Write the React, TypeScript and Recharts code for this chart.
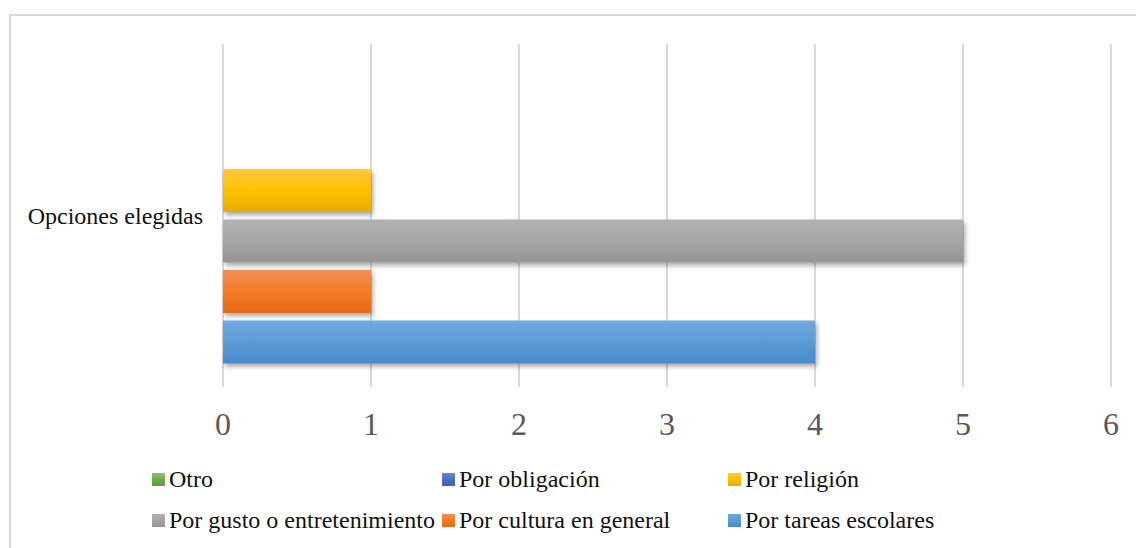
import React from "react";
import { BarChart, Bar, XAxis, YAxis, CartesianGrid } from "recharts";

const categories = ["Opciones elegidas"];
const seriesNames = [
  "Otro",
  "Por obligación",
  "Por religión",
  "Por gusto o entretenimiento",
  "Por cultura en general",
  "Por tareas escolares",
];
const seriesValues = [0, 0, 1, 5, 1, 4];
const xTicks = [0, 1, 2, 3, 4, 5, 6];

// top / middle / bottom stops of each bar's gradient
const seriesColors = [
  ["#8cc46a", "#70ad47", "#60993a"],
  ["#6488cf", "#4472c4", "#3a64b0"],
  ["#ffca3d", "#ffc000", "#e6ad00"],
  ["#b2b2b2", "#a5a5a5", "#949494"],
  ["#f08f56", "#f47b24", "#e36b17"],
  ["#70a8e0", "#5b9bd5", "#4688cb"],
];

const data = categories.map((name) => {
  const row: Record<string, string | number> = { name };
  seriesNames.forEach((s, i) => {
    row["s" + i] = seriesValues[i];
  });
  return row;
});

const FONT = "'Liberation Serif', 'Times New Roman', serif";

// legend is laid out in 3 columns, 2 rows, like the Excel original
const legendCols = [152, 442, 728];
const legendRows = [467, 508];

export default function App() {
  return (
    <div
      style={{
        position: "fixed",
        left: 0,
        top: 0,
        width: 1136,
        height: 548,
        overflow: "hidden",
        background: "#fff",
        fontFamily: FONT,
      }}
    >
      <div
        style={{
          position: "absolute",
          left: 9,
          top: 14,
          width: 1140,
          height: 560,
          border: "2px solid #d9d9d9",
          boxSizing: "border-box",
        }}
      />
      <div style={{ position: "absolute", left: 0, top: 0 }}>
        <BarChart
          width={1136}
          height={548}
          data={data}
          layout="vertical"
          margin={{ top: 44, right: 25, bottom: 121, left: 0 }}
          barCategoryGap={24}
          barGap={7.5}
        >
          <defs>
            {seriesColors.map((c, i) => (
              <linearGradient key={i} id={"grad" + i} x1="0" y1="0" x2="0" y2="1">
                <stop offset="0%" stopColor={c[0]} />
                <stop offset="50%" stopColor={c[1]} />
                <stop offset="100%" stopColor={c[2]} />
              </linearGradient>
            ))}
            <filter id="shadow" x="-10%" y="-30%" width="130%" height="180%">
              <feDropShadow dx="2" dy="3" stdDeviation="2.5" floodColor="#000" floodOpacity="0.35" />
            </filter>
          </defs>
          <CartesianGrid horizontal={false} stroke="#d9d9d9" strokeWidth={2} />
          <XAxis
            type="number"
            domain={[0, 6]}
            ticks={xTicks}
            axisLine={false}
            tickLine={false}
            tickSize={0}
            tickMargin={25}
            height={40}
            tick={{ fontSize: 32, fill: "#595959", fontFamily: FONT }}
          />
          <YAxis
            type="category"
            dataKey="name"
            width={223}
            axisLine={false}
            tickLine={false}
            tickSize={0}
            tickMargin={20}
            tick={{ fontSize: 24, fill: "#111", fontFamily: FONT }}
          />
          {seriesNames.map((s, i) => (
            <Bar
              key={s}
              dataKey={"s" + i}
              name={s}
              fill={`url(#grad${i})`}
              filter="url(#shadow)"
              isAnimationActive={false}
            />
          ))}
        </BarChart>
      </div>
      {seriesNames.map((s, i) => {
        const col = i % 3;
        const row = Math.floor(i / 3);
        const c = seriesColors[i];
        return (
          <div
            key={s}
            style={{
              position: "absolute",
              left: legendCols[col],
              top: legendRows[row],
              display: "flex",
              alignItems: "center",
              fontSize: 24,
              lineHeight: "24px",
              color: "#111",
              whiteSpace: "nowrap",
            }}
          >
            <span
              style={{
                display: "inline-block",
                width: 13,
                height: 13,
                marginRight: 4,
                background: `linear-gradient(${c[0]}, ${c[1]}, ${c[2]})`,
              }}
            />
            {s}
          </div>
        );
      })}
    </div>
  );
}
